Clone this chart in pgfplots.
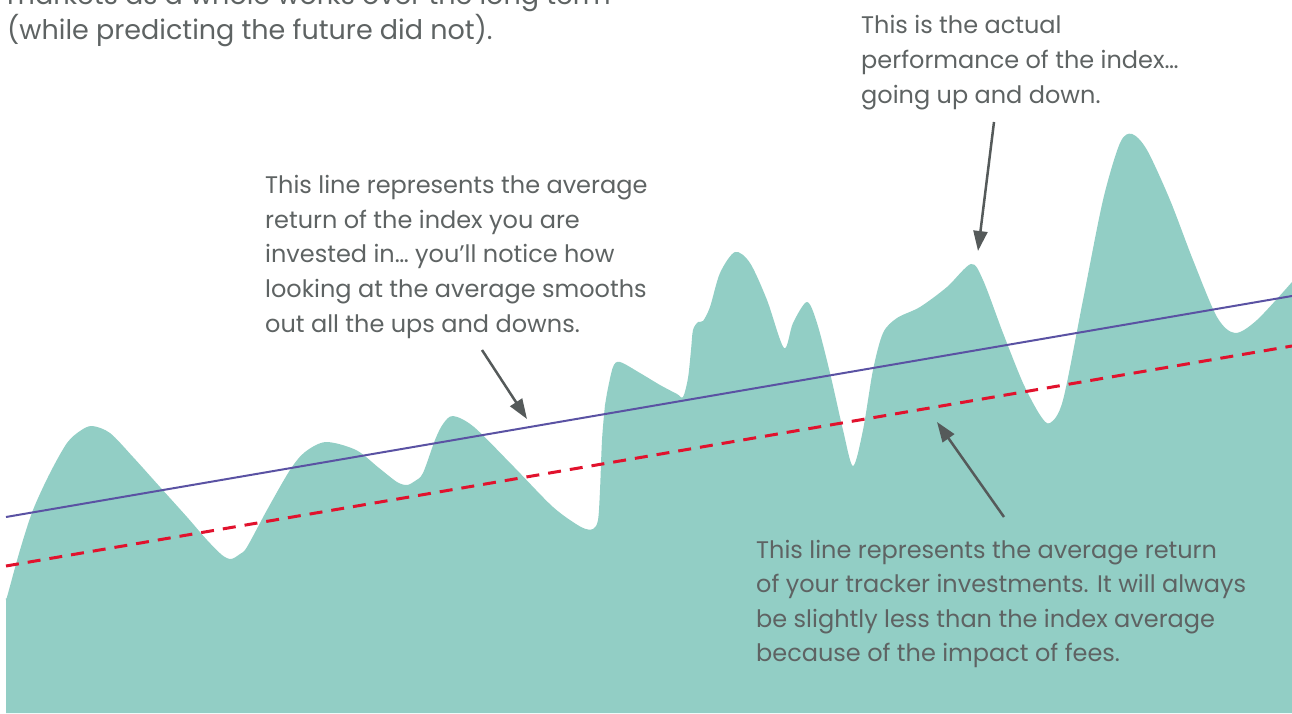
\documentclass[border=0pt]{standalone}
\usepackage{pgfplots}
\pgfplotsset{compat=1.18}
\usepackage{fontspec}
\setmainfont{Poppins}
\usetikzlibrary{arrows.meta}
\definecolor{tealfill}{HTML}{92CEC5}
\definecolor{avgblue}{HTML}{5A52A3}
\definecolor{feered}{HTML}{E1122D}
\definecolor{txtgray}{HTML}{5E6363}
\definecolor{arrgray}{HTML}{555A5A}
\begin{document}
\begin{tikzpicture}
\path[use as bounding box, clip] (0,0) rectangle (1292pt,713pt);
\begin{axis}[
  at={(0,0)}, anchor=south west,
  scale only axis, width=1292pt, height=713pt,
  xmin=0, xmax=1292, ymin=0, ymax=713,
  axis lines=none, clip=false,
]
\addplot[fill=tealfill, draw=none, smooth, tension=0.5] coordinates {
(6,115)(7,116)(20,163)(33,203)(50,240)(67,270)(80,282)(92,287)(110,280)(133,256)
(160,226)(187,196)(207,173)(222,158)(231,154)(240,159)(247,166)(267,203)(290,243)
(305,261)(326,271)(356,263)(379,245)(397,231)(407,228)(415,232)(423,240)(435,273)
(443,289)(453,297)(474,286)(514,246)(553,206)(581,186)(593,184)(598,193)(600,223)
(602,273)(605,308)(607,320)(613,346)(620,351)(640,340)(660,328)(677,319)(683,316)
(688,335)(691,363)(693,383)(698,391)(703,392)(710,406)(720,440)(735,461)(750,450)
(767,413)(784,365)(793,390)(807,411)(817,390)(830,340)(843,283)(853,247)(863,283)
(873,343)(883,380)(897,395)(920,406)(947,426)(971,449)(983,433)(1003,380)(1023,330)
(1040,298)(1050,290)(1063,313)(1083,413)(1103,513)(1120,570)(1132,579)(1147,563)
(1170,513)(1193,453)(1217,396)(1235,380)(1257,393)(1292,431)
} \closedcycle;
\addplot[avgblue, line width=2pt] coordinates {(6,196)(1292,417)};
\addplot[feered, line width=3pt, dash pattern=on 13pt off 9pt] coordinates {(6,147)(1292,367)};
\draw[arrgray, line width=2.5pt, -{Triangle[length=20pt,width=14pt]}] (axis cs:994,591) -- (axis cs:978,462);
\draw[arrgray, line width=2.5pt, -{Triangle[length=20pt,width=14pt]}] (axis cs:482,363) -- (axis cs:527,294);
\draw[arrgray, line width=2.5pt, -{Triangle[length=20pt,width=14pt]}] (axis cs:1004,196) -- (axis cs:937,291);
\begin{scope}[every node/.style={anchor=base west, inner sep=0pt, text=txtgray, font=\fontsize{24}{34}\selectfont}]
\node[font=\fontsize{27}{35}\selectfont] at (axis cs:7,708) {markets as a whole works over the long term};
\node[font=\fontsize{27}{35}\selectfont] at (axis cs:7,673) {(while predicting the future did not).};
\node at (axis cs:861,679) {This is the actual};
\node at (axis cs:861,644) {performance of the index\ldots};
\node at (axis cs:861,609) {going up and down.};
\node at (axis cs:265,519) {This line represents the average};
\node at (axis cs:265,484) {return of the index you are};
\node at (axis cs:265,450) {invested in\ldots\ you’ll notice how};
\node at (axis cs:265,415) {looking at the average smooths};
\node at (axis cs:265,380) {out all the ups and downs.};
\node at (axis cs:756,155) {This line represents the average return};
\node at (axis cs:756,121) {of your tracker investments. It will always};
\node at (axis cs:756,86) {be slightly less than the index average};
\node at (axis cs:756,52) {because of the impact of fees.};
\end{scope}
\end{axis}
\end{tikzpicture}
\end{document}
